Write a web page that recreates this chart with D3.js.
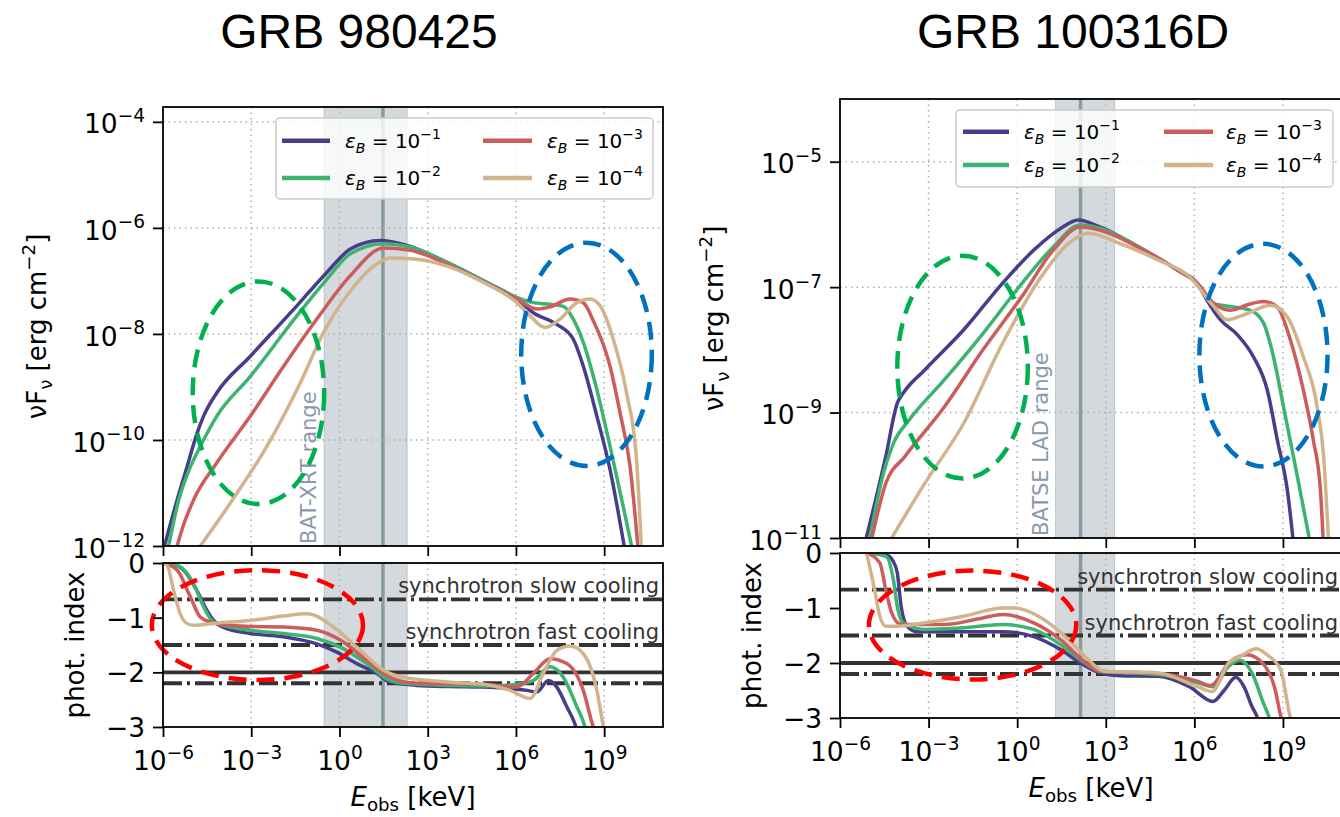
<!DOCTYPE html>
<html>
<head>
<meta charset="utf-8">
<script src="https://cdn.jsdelivr.net/npm/d3@7"></script>
<style>
  body { margin: 0; background: #fff; }
  svg { display: block; }
</style>
</head>
<body>
<svg id="fig" width="1340" height="817"></svg>
<script>

// ---- data (log10 E [keV], log10 value) ----

var xTickExps = [-6, -3, 0, 3, 6, 9];
var idxTicks = [0, -1, -2, -3];
var epsBExps = ["−1", "−2", "−3", "−4"];
var seriesColors = ["#483d8b", "#3cb371", "#cd5c5c", "#d2b48c"];

// GRB 980425, nuFnu
var sed980425_eB1 = [[-5.95,-12],[-5.52,-11.13],[-5.18,-10.5],[-4.84,-9.87],[-4.62,-9.55],[-4.17,-9.11],[-3.03,-8.42],[-1.45,-7.47],[-0.43,-6.84],[0.37,-6.40],[1.38,-6.24],[2.29,-6.33],[3.76,-6.68],[4.9,-7.0],[6.03,-7.34],[6.59,-7.6],[7.39,-7.82],[7.95,-8.1],[8.29,-8.61],[8.75,-9.55],[9.2,-10.56],[9.71,-12.1]];
var sed980425_eB2 = [[-5.81,-12],[-5.45,-11.1],[-5.1,-10.55],[-4.73,-10.12],[-4.17,-9.55],[-3.03,-8.8],[-1.45,-7.66],[-0.43,-6.97],[0.37,-6.49],[1.5,-6.30],[2.4,-6.36],[3.76,-6.68],[4.9,-7.0],[6.03,-7.31],[6.59,-7.41],[7.16,-7.44],[7.61,-7.48],[7.95,-7.72],[8.29,-8.16],[8.75,-9.05],[9.2,-10.12],[9.65,-11.26],[9.97,-12.1]];
var sed980425_eB3 = [[-5.52,-12],[-5.3,-11.6],[-4.96,-11.13],[-4.17,-10.43],[-3.03,-9.55],[-1.9,-8.61],[-0.77,-7.72],[0.37,-6.90],[1.5,-6.38],[2.4,-6.42],[3.76,-6.71],[4.9,-7.02],[6.03,-7.34],[6.71,-7.53],[7.16,-7.49],[7.84,-7.34],[8.29,-7.41],[8.63,-7.75],[9.2,-8.61],[9.54,-9.49],[9.88,-10.5],[10.16,-12.1]];
var sed980425_eB4 = [[-4.73,-12],[-3.6,-11.1],[-2.47,-10.12],[-1.33,-8.92],[-0.54,-7.97],[0.37,-7.19],[1.27,-6.68],[1.72,-6.57],[2.63,-6.59],[3.76,-6.74],[4.9,-7.03],[6.03,-7.41],[6.48,-7.66],[6.99,-7.88],[7.5,-7.72],[8.07,-7.41],[8.52,-7.34],[8.86,-7.47],[9.31,-8.10],[9.76,-9.11],[10.1,-10.37],[10.27,-12.1]];

// GRB 980425, photon index
var idx980425_eB1 = [[-6,0],[-5.6,-0.03],[-5.3,-0.13],[-4.85,-0.5],[-4.5,-0.87],[-4.28,-1.05],[-3.94,-1.18],[-3.03,-1.29],[-1.9,-1.35],[-0.77,-1.48],[-0.09,-1.63],[0.59,-1.84],[1.27,-2.02],[1.72,-2.18],[2.63,-2.24],[3.76,-2.26],[4.9,-2.27],[5.8,-2.3],[6.37,-2.33],[6.71,-2.36],[7.1,-2.15],[7.39,-2.27],[7.73,-2.63],[8.01,-2.95],[8.1,-3.1]];
var idx980425_eB2 = [[-6,0],[-5.41,-0.07],[-4.96,-0.38],[-4.62,-0.8],[-4.28,-1.08],[-3.03,-1.23],[-1.9,-1.29],[-0.77,-1.38],[0.03,-1.54],[0.93,-1.84],[1.72,-2.15],[2.63,-2.22],[4.9,-2.25],[6.03,-2.22],[6.59,-2.15],[7.16,-1.9],[7.61,-2.09],[8.07,-2.63],[8.35,-3.0],[8.4,-3.1]];
var idx980425_eB3 = [[-6,0],[-5.52,-0.13],[-5.07,-0.62],[-4.73,-0.99],[-4.17,-1.11],[-3.03,-1.16],[-1.9,-1.17],[-0.77,-1.23],[0.03,-1.41],[0.93,-1.78],[1.72,-2.09],[2.63,-2.2],[4.9,-2.22],[6.03,-2.27],[6.59,-2.02],[7.16,-1.75],[7.73,-1.84],[8.29,-2.33],[8.63,-3.0],[8.7,-3.1]];
var idx980425_eB4 = [[-6,0],[-5.85,-0.05],[-5.64,-0.5],[-5.4,-0.95],[-5.2,-1.1],[-4.96,-1.14],[-4.17,-1.1],[-3.03,-1.05],[-1.9,-0.97],[-1.11,-0.93],[-0.2,-1.17],[0.59,-1.54],[1.5,-1.96],[2.18,-2.09],[3.76,-2.18],[4.9,-2.22],[5.8,-2.33],[6.48,-2.48],[6.93,-2.02],[7.39,-1.6],[7.84,-1.52],[8.29,-1.66],[8.75,-2.33],[8.97,-3.0],[9.0,-3.1]];

// GRB 100316D, nuFnu
var sed100316D_eB1 = [[-5.11,-11],[-4.45,-9.7],[-4.06,-8.85],[-3.86,-8.69],[-3.13,-8.32],[-1.81,-7.68],[-0.5,-6.94],[0.56,-6.41],[1.48,-6.06],[2.07,-5.93],[2.8,-6.04],[4.12,-6.36],[5.44,-6.73],[6.1,-6.94],[6.43,-7.21],[6.88,-7.52],[7.46,-7.76],[8.0,-8.11],[8.47,-8.64],[8.81,-9.44],[9.15,-10.24],[9.36,-11.1]];
var sed100316D_eB2 = [[-4.98,-11],[-4.6,-10.1],[-4.19,-9.49],[-3.66,-9.12],[-2.47,-8.48],[-1.16,-7.74],[0.16,-6.94],[1.22,-6.36],[2.14,-6.01],[2.8,-6.06],[4.12,-6.36],[5.44,-6.73],[6.1,-6.94],[6.66,-7.26],[7.22,-7.31],[7.9,-7.37],[8.34,-7.57],[8.68,-8.11],[9.02,-8.91],[9.36,-9.71],[9.69,-10.51],[9.93,-11.1]];
var sed100316D_eB3 = [[-4.92,-11],[-4.45,-10.13],[-3.8,-9.7],[-2.47,-8.91],[-1.16,-8.0],[0.16,-7.15],[1.22,-6.41],[2.14,-6.04],[2.8,-6.09],[4.12,-6.37],[5.44,-6.73],[6.1,-6.94],[6.66,-7.26],[7.22,-7.37],[7.8,-7.28],[8.35,-7.23],[8.8,-7.31],[9.25,-7.84],[9.69,-8.64],[10.03,-9.44],[10.27,-10.24],[10.37,-11.1]];
var sed100316D_eB4 = [[-4.25,-11],[-3.13,-10.13],[-1.81,-9.17],[-0.5,-7.9],[0.82,-6.83],[1.75,-6.3],[2.41,-6.14],[3.46,-6.3],[4.78,-6.57],[5.83,-6.83],[6.66,-7.31],[7.11,-7.52],[7.79,-7.42],[8.58,-7.29],[9.14,-7.47],[9.69,-8.11],[10.16,-8.91],[10.38,-9.71],[10.55,-11.1]];

// GRB 100316D, photon index
var idx100316D_eB1 = [[-5.1,0],[-4.45,-0.03],[-4.2,-0.15],[-4.06,-0.36],[-3.93,-0.97],[-3.73,-1.33],[-3.4,-1.43],[-1.81,-1.43],[-0.49,-1.43],[0.56,-1.52],[1.48,-1.76],[2.14,-2.0],[2.8,-2.18],[3.46,-2.23],[4.78,-2.24],[5.83,-2.43],[6.63,-2.7],[7.02,-2.49],[7.4,-2.26],[7.68,-2.43],[7.95,-2.79],[8.14,-3.0],[8.2,-3.1]];
var idx100316D_eB2 = [[-5.1,0],[-4.45,-0.06],[-4.19,-0.49],[-4.06,-0.97],[-3.86,-1.27],[-3.13,-1.39],[-1.81,-1.36],[-0.49,-1.3],[0.56,-1.39],[1.48,-1.67],[2.14,-1.94],[2.8,-2.15],[4.78,-2.21],[6.1,-2.36],[6.63,-2.43],[7.16,-2.06],[7.55,-1.95],[7.95,-2.18],[8.34,-2.73],[8.54,-3.0],[8.6,-3.1]];
var idx100316D_eB3 = [[-5.1,0],[-4.65,-0.18],[-4.45,-0.67],[-4.25,-1.09],[-3.93,-1.3],[-2.47,-1.3],[-1.16,-1.18],[-0.49,-1.12],[0.56,-1.27],[1.48,-1.58],[2.14,-1.91],[2.8,-2.15],[4.78,-2.19],[6.1,-2.33],[6.55,-2.41],[7.2,-1.98],[7.78,-1.85],[8.34,-2.02],[8.74,-2.49],[8.94,-3.0],[9.0,-3.1]];
var idx100316D_eB4 = [[-5.1,0],[-4.85,-0.61],[-4.65,-1.15],[-4.45,-1.33],[-4.06,-1.33],[-3.13,-1.27],[-1.81,-1.15],[-0.49,-1.0],[-0.1,-1.0],[0.82,-1.18],[1.75,-1.58],[2.41,-1.94],[2.93,-2.15],[4.78,-2.18],[6.1,-2.43],[6.6,-2.52],[7.16,-2.0],[7.56,-1.88],[8.1,-1.74],[8.46,-1.85],[8.92,-2.12],[9.25,-3.0],[9.3,-3.1]];

// instrument windows and peak energy [keV]
var band980425 = [0.3, 200], peak980425 = 30;
var band100316D = [20, 2000], peak100316D = 140;

// reference photon indices
var syncSlow = -2 / 3, syncFast = -1.5, refSolid = -2, refDashDot = -2.2;

// hand-drawn rings, [logE1, logE2, v1, v2]
var rings980425 = [[-4.99, -0.52, -7.01, -11.21], [6.18, 10.62, -6.28, -10.49]];
var ringsIdx980425 = [[-6.38, 0.80, -0.13, -2.14]];
var rings100316D = [[-4.06, 0.36, -6.5, -10.05], [6.17, 10.51, -6.31, -9.86]];
var ringsIdx100316D = [[-5.02, 2.0, -0.32, -2.30]];

// ---- drawing ----

var FONT = '"DejaVu Sans", sans-serif';
var TICK = 26.5, LABEL = 26;
var svg = d3.select("#fig");

function supText(t, base, s, size) {
  t.append("tspan").text(base);
  t.append("tspan").attr("dy", -0.42 * size).attr("font-size", 0.7 * size).text(s);
}
function expStr(e) { return e < 0 ? "−" + (-e) : "" + e; }

function drawPanel(p) {
  var g = svg.append("g");
  var x = d3.scaleLog().domain([1e-6, 1e11]).range([p.x0, p.x1]);
  var y = d3.scaleLog().domain([Math.pow(10, p.sedLo), Math.pow(10, p.sedHi)]).range([p.sy1, p.sy0]);
  var yi = d3.scaleLinear().domain([-3, 0]).range([p.iy1, p.iy0]);
  var w = p.x1 - p.x0;

  // clip paths
  g.append("clipPath").attr("id", "cs" + p.id).append("rect")
    .attr("x", p.x0).attr("y", p.sy0).attr("width", w).attr("height", p.sy1 - p.sy0);
  g.append("clipPath").attr("id", "ci" + p.id).append("rect")
    .attr("x", p.x0).attr("y", p.iy0).attr("width", w).attr("height", p.iy1 - p.iy0);

  // title
  svg.append("text").attr("x", p.titleX).attr("y", 48)
    .attr("text-anchor", "middle").attr("font-family", '"Liberation Sans", Arial, sans-serif')
    .attr("font-size", 48).text(p.title);

  [[p.sy0, p.sy1], [p.iy0, p.iy1]].forEach(function(r) {
    // instrument band + peak line
    g.append("rect").attr("x", x(p.band[0])).attr("y", r[0])
      .attr("width", x(p.band[1]) - x(p.band[0])).attr("height", r[1] - r[0])
      .attr("fill", "#708090").attr("fill-opacity", 0.3)
      .attr("stroke", "#708090").attr("stroke-opacity", 0.35).attr("stroke-width", 1);
    g.append("line").attr("x1", x(p.peak)).attr("x2", x(p.peak)).attr("y1", r[0]).attr("y2", r[1])
      .attr("stroke", "#2f4f4f").attr("stroke-opacity", 0.45).attr("stroke-width", 3.5);
    // vertical grid
    g.selectAll(null).data(xTickExps.slice(1)).enter().append("line")
      .attr("x1", function(d) { return x(Math.pow(10, d)); })
      .attr("x2", function(d) { return x(Math.pow(10, d)); })
      .attr("y1", r[0]).attr("y2", r[1])
      .attr("stroke", "#b0b0b0").attr("stroke-width", 1.5).attr("stroke-dasharray", "1.5,4");
  });

  // horizontal grid (top)
  g.selectAll(null).data(p.sedTicks.slice(0, -1)).enter().append("line")
    .attr("x1", p.x0).attr("x2", p.x1)
    .attr("y1", function(d) { return y(Math.pow(10, d)); })
    .attr("y2", function(d) { return y(Math.pow(10, d)); })
    .attr("stroke", "#b0b0b0").attr("stroke-width", 1.5).attr("stroke-dasharray", "1.5,4");

  // reference photon-index lines
  var refs = [
    {v: syncSlow, dash: "19,5,3,5", label: "synchrotron slow cooling"},
    {v: syncFast, dash: "19,5,3,5", label: "synchrotron fast cooling"},
    {v: refSolid, dash: null},
    {v: refDashDot, dash: "19,5,3,5"}
  ];
  refs.forEach(function(r) {
    g.append("line").attr("x1", p.x0).attr("x2", p.x1).attr("y1", yi(r.v)).attr("y2", yi(r.v))
      .attr("stroke", "#333").attr("stroke-width", 3.8)
      .attr("stroke-dasharray", r.dash);
    if (r.label) {
      g.append("text").attr("x", p.x1 - 4).attr("y", yi(r.v) - 6)
        .attr("text-anchor", "end").attr("font-family", FONT).attr("font-size", 21)
        .attr("fill", "#333").text(r.label);
    }
  });

  // curves
  var sedLine = d3.line()
    .x(function(d) { return x(Math.pow(10, d[0])); })
    .y(function(d) { return y(Math.pow(10, d[1])); })
    .curve(d3.curveMonotoneX);
  var idxLine = d3.line()
    .x(function(d) { return x(Math.pow(10, d[0])); })
    .y(function(d) { return yi(d[1]); })
    .curve(d3.curveMonotoneX);

  g.append("g").attr("clip-path", "url(#cs" + p.id + ")")
    .selectAll("path").data(p.sed).enter().append("path")
    .attr("d", sedLine).attr("fill", "none")
    .attr("stroke", function(d, i) { return seriesColors[i]; })
    .attr("stroke-width", 3.5).attr("stroke-linejoin", "round");
  g.append("g").attr("clip-path", "url(#ci" + p.id + ")")
    .selectAll("path").data(p.idx).enter().append("path")
    .attr("d", idxLine).attr("fill", "none")
    .attr("stroke", function(d, i) { return seriesColors[i]; })
    .attr("stroke-width", 3.5).attr("stroke-linejoin", "round");

  // band label
  g.append("text")
    .attr("transform", "translate(" + (x(p.band[0]) - 8) + "," + (p.sy1 - 2) + ") rotate(-90)")
    .attr("font-family", FONT).attr("font-size", 21).attr("fill", "#8a99ad")
    .text(p.bandLabel);

  // rings
  var ringColors = ["#00b050", "#0070c0"];
  p.rings.forEach(function(r, i) {
    var cx = (x(Math.pow(10, r[0])) + x(Math.pow(10, r[1]))) / 2;
    var cy = (y(Math.pow(10, r[2])) + y(Math.pow(10, r[3]))) / 2;
    g.append("ellipse").attr("cx", cx).attr("cy", cy)
      .attr("rx", (x(Math.pow(10, r[1])) - x(Math.pow(10, r[0]))) / 2)
      .attr("ry", (y(Math.pow(10, r[3])) - y(Math.pow(10, r[2]))) / 2)
      .attr("fill", "none").attr("stroke", ringColors[i]).attr("stroke-width", 4.5)
      .attr("stroke-dasharray", "18,10");
  });
  p.ringsIdx.forEach(function(r) {
    var cx = (x(Math.pow(10, r[0])) + x(Math.pow(10, r[1]))) / 2;
    var cy = (yi(r[2]) + yi(r[3])) / 2;
    g.append("ellipse").attr("cx", cx).attr("cy", cy)
      .attr("rx", (x(Math.pow(10, r[1])) - x(Math.pow(10, r[0]))) / 2)
      .attr("ry", (yi(r[3]) - yi(r[2])) / 2)
      .attr("fill", "none").attr("stroke", "#ff0000").attr("stroke-width", 4.5)
      .attr("stroke-dasharray", "18,10");
  });

  // legend
  var L = p.legend;
  var lg = g.append("g");
  lg.append("rect").attr("x", L.x).attr("y", L.y).attr("width", L.w).attr("height", L.h)
    .attr("rx", 4).attr("fill", "#fff").attr("fill-opacity", 0.8)
    .attr("stroke", "#cccccc").attr("stroke-width", 1.5);
  epsBExps.forEach(function(e, i) {
    var col = Math.floor(i / 2), row = i % 2;
    var ly = L.rows[row];
    lg.append("line").attr("x1", L.cols[col][0]).attr("x2", L.cols[col][1])
      .attr("y1", ly).attr("y2", ly).attr("stroke", seriesColors[i]).attr("stroke-width", 4.5);
    var t = lg.append("text").attr("x", L.cols[col][2]).attr("y", ly + 7)
      .attr("font-family", FONT).attr("font-size", 20);
    t.append("tspan").attr("font-style", "italic").text("ε");
    t.append("tspan").attr("font-style", "italic").attr("font-size", 14).attr("dy", 5).text("B");
    t.append("tspan").attr("dy", -5).text(" = 10");
    t.append("tspan").attr("font-size", 14).attr("dy", -9).text(e);
  });

  // frames
  g.append("rect").attr("x", p.x0).attr("y", p.sy0).attr("width", w).attr("height", p.sy1 - p.sy0)
    .attr("fill", "none").attr("stroke", "#000").attr("stroke-width", 1.8);
  g.append("rect").attr("x", p.x0).attr("y", p.iy0).attr("width", w).attr("height", p.iy1 - p.iy0)
    .attr("fill", "none").attr("stroke", "#000").attr("stroke-width", 1.8);

  function styleAxis(a) {
    a.select(".domain").remove();
    a.selectAll(".tick line").attr("stroke", "#000").attr("stroke-width", 1.8);
    a.selectAll(".tick text").attr("font-family", FONT).attr("font-size", TICK).attr("fill", "#000");
  }

  var xVals = xTickExps.map(function(e) { return Math.pow(10, e); });
  // top panel x ticks (no labels)
  var ax1 = g.append("g").attr("transform", "translate(0," + p.sy1 + ")")
    .call(d3.axisBottom(x).tickValues(xVals).tickSize(10).tickFormat(function() { return ""; }));
  styleAxis(ax1);
  // bottom panel x ticks
  var ax2 = g.append("g").attr("transform", "translate(0," + p.iy1 + ")")
    .call(d3.axisBottom(x).tickValues(xVals).tickSize(10).tickPadding(14).tickFormat(function() { return ""; }));
  styleAxis(ax2);
  ax2.selectAll(".tick text").each(function(d) {
    supText(d3.select(this), "10", expStr(Math.round(Math.log10(d))), TICK);
  });
  // top y axis
  var ay1 = g.append("g").attr("transform", "translate(" + p.x0 + ",0)")
    .call(d3.axisLeft(y).tickValues(p.sedTicks.map(function(e) { return Math.pow(10, e); }))
      .tickSize(10).tickPadding(8).tickFormat(function() { return ""; }));
  styleAxis(ay1);
  ay1.selectAll(".tick text").attr("dy", "0.42em").each(function(d) {
    supText(d3.select(this), "10", expStr(Math.round(Math.log10(d))), TICK);
  });
  // bottom y axis
  var ay2 = g.append("g").attr("transform", "translate(" + p.x0 + ",0)")
    .call(d3.axisLeft(yi).tickValues(idxTicks).tickSize(10).tickPadding(8)
      .tickFormat(function(d) { return expStr(d); }));
  styleAxis(ay2);
  ay2.selectAll(".tick text").attr("dy", "0.36em");

  // axis labels
  var yl = g.append("text")
    .attr("transform", "translate(" + (p.x0 - 117) + "," + ((p.sy0 + p.sy1) / 2) + ") rotate(-90)")
    .attr("text-anchor", "middle").attr("font-family", FONT).attr("font-size", LABEL);
  yl.append("tspan").text("νF");
  yl.append("tspan").attr("font-size", LABEL * 0.7).attr("dy", 6).text("ν");
  yl.append("tspan").attr("dy", -6).text(" [erg cm");
  yl.append("tspan").attr("font-size", LABEL * 0.7).attr("dy", -11).text("−2");
  yl.append("tspan").attr("dy", 11).text("]");

  g.append("text")
    .attr("transform", "translate(" + (p.x0 - 79) + "," + ((p.iy0 + p.iy1) / 2) + ") rotate(-90)")
    .attr("text-anchor", "middle").attr("font-family", FONT).attr("font-size", LABEL)
    .text("phot. index");

  var xl = g.append("text").attr("x", (p.x0 + p.x1) / 2).attr("y", p.iy1 + 79)
    .attr("text-anchor", "middle").attr("font-family", FONT).attr("font-size", LABEL);
  xl.append("tspan").attr("font-style", "italic").text("E");
  xl.append("tspan").attr("font-size", LABEL * 0.7).attr("dy", 5).text("obs");
  xl.append("tspan").attr("dy", -5).text(" [keV]");
}

drawPanel({
  id: "A", title: "GRB 980425", titleX: 359,
  x0: 163, x1: 663, sy0: 107, sy1: 546, iy0: 563, iy1: 727,
  sedLo: -12, sedHi: -3.72, sedTicks: [-4, -6, -8, -10, -12],
  sed: [sed980425_eB1, sed980425_eB2, sed980425_eB3, sed980425_eB4],
  idx: [idx980425_eB1, idx980425_eB2, idx980425_eB3, idx980425_eB4],
  band: band980425, peak: peak980425, bandLabel: "BAT-XRT range",
  rings: rings980425, ringsIdx: ringsIdx980425,
  legend: {x: 276, y: 118, w: 377, h: 81, rows: [140.7, 178],
           cols: [[282, 330, 345], [483, 532, 547]]}
});

drawPanel({
  id: "B", title: "GRB 100316D", titleX: 1073,
  x0: 840, x1: 1342, sy0: 99, sy1: 538, iy0: 553, iy1: 718,
  sedLo: -11, sedHi: -4, sedTicks: [-5, -7, -9, -11],
  sed: [sed100316D_eB1, sed100316D_eB2, sed100316D_eB3, sed100316D_eB4],
  idx: [idx100316D_eB1, idx100316D_eB2, idx100316D_eB3, idx100316D_eB4],
  band: band100316D, peak: peak100316D, bandLabel: "BATSE LAD range",
  rings: rings100316D, ringsIdx: ringsIdx100316D,
  legend: {x: 956, y: 110, w: 377, h: 77, rows: [131.7, 165],
           cols: [[963, 1009, 1024], [1164, 1213, 1226]]}
});

</script>
</body>
</html>
